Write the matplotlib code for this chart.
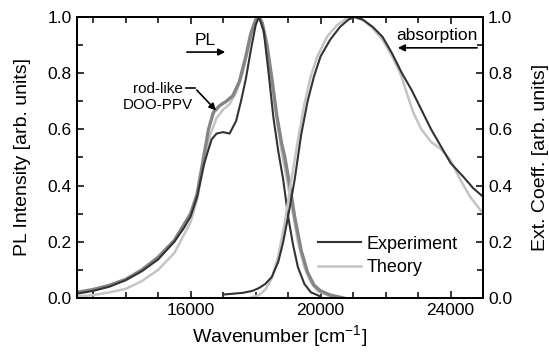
import matplotlib
matplotlib.use("Agg")
import matplotlib.pyplot as plt
from matplotlib.ticker import MultipleLocator

plt.rcParams['font.family'] = ['Liberation Sans', 'DejaVu Sans']

# PL, experiment (dark)
pl_exp_x = [12500, 13000, 13500, 14000, 14500, 15000, 15500, 15800, 16000, 16200,
            16400, 16500, 16650, 16800, 17000, 17200, 17400, 17550, 17700, 17850,
            18000, 18100, 18250, 18400, 18550, 18700, 18850, 19000, 19150,
            19300, 19500, 19700, 20000]
pl_exp_y = [0.015, 0.025, 0.04, 0.063, 0.095, 0.137, 0.20, 0.25, 0.29, 0.36,
            0.47, 0.51, 0.565, 0.585, 0.59, 0.585, 0.63, 0.70, 0.78, 0.88,
            0.97, 1.0, 0.95, 0.80, 0.64, 0.52, 0.42, 0.29, 0.19,
            0.11, 0.05, 0.02, 0.005]

# PL, rod-like DOO-PPV (medium grey)
pl_rod_x = [12500, 13000, 13500, 14000, 14500, 15000, 15500, 16000, 16200, 16400,
            16550, 16700, 16900, 17100, 17300, 17500, 17700, 17850, 18000, 18100,
            18200, 18350, 18500, 18650, 18800, 18900, 19050, 19200, 19400, 19600,
            19800, 20000, 20300, 20700]
pl_rod_y = [0.02, 0.03, 0.045, 0.066, 0.10, 0.145, 0.205, 0.30, 0.37, 0.50,
            0.60, 0.66, 0.685, 0.70, 0.72, 0.77, 0.86, 0.94, 0.99, 1.0,
            0.98, 0.90, 0.78, 0.65, 0.55, 0.50, 0.40, 0.29, 0.17, 0.09,
            0.045, 0.025, 0.01, 0.0]

# PL, theory (light)
pl_th_x = [12500, 13000, 13500, 14000, 14500, 15000, 15500, 16000, 16200, 16400,
           16600, 16800, 17000, 17200, 17400, 17600, 17800, 17950, 18080, 18200,
           18350, 18500, 18650, 18800, 18950, 19100, 19300, 19500, 19700, 19900,
           20200, 20600]
pl_th_y = [0.005, 0.01, 0.02, 0.032, 0.06, 0.10, 0.16, 0.27, 0.35, 0.47,
           0.58, 0.64, 0.67, 0.69, 0.73, 0.80, 0.90, 0.97, 1.0, 0.98,
           0.90, 0.78, 0.64, 0.52, 0.43, 0.33, 0.20, 0.11, 0.055, 0.025,
           0.01, 0.0]

# absorption, experiment (dark)
abs_exp_x = [17000, 17300, 17600, 17900, 18100, 18300, 18500, 18700, 18850, 19000,
             19200, 19400, 19600, 19800, 20000, 20300, 20600, 20850, 21050, 21300,
             21600, 21900, 22200, 22500, 22800, 23100, 23400, 23700, 24000, 24400,
             24700, 25000]
abs_exp_y = [0.012, 0.015, 0.018, 0.025, 0.035, 0.05, 0.075, 0.13, 0.20, 0.29,
             0.42, 0.58, 0.70, 0.79, 0.86, 0.92, 0.965, 0.99, 1.0, 0.99,
             0.965, 0.93, 0.87, 0.80, 0.74, 0.67, 0.60, 0.54, 0.48, 0.43,
             0.39, 0.36]

# absorption, theory (light)
abs_th_x = [17800, 18100, 18300, 18500, 18700, 18900, 19100, 19300, 19500, 19700,
            19900, 20200, 20500, 20800, 21000, 21300, 21600, 21900, 22200, 22450,
            22650, 22850, 23100, 23400, 23700, 24000, 24300, 24600, 25000]
abs_th_y = [0.0, 0.01, 0.03, 0.07, 0.15, 0.27, 0.42, 0.56, 0.69, 0.79,
            0.86, 0.93, 0.97, 0.995, 1.0, 0.99, 0.96, 0.92, 0.86, 0.80,
            0.73, 0.66, 0.60, 0.555, 0.53, 0.49, 0.42, 0.36, 0.30]

dark = "#333333"
mid = "#858585"
light = "#c4c4c4"

fig = plt.figure(figsize=(5.49, 3.53), dpi=100)
ax = fig.add_axes([0.140, 0.156, 0.740, 0.796])
ax2 = ax.twinx()

ax.plot(pl_th_x, pl_th_y, color=light, lw=1.8)
ax.plot(pl_rod_x, pl_rod_y, color=mid, lw=2.4)
ax.plot(pl_exp_x, pl_exp_y, color=dark, lw=1.5)
ax2.plot(abs_th_x, abs_th_y, color=light, lw=1.8, label="Theory")
ax2.plot(abs_exp_x, abs_exp_y, color=dark, lw=1.5, label="Experiment")

for a in (ax, ax2):
    a.set_xlim(12500, 25000)
    a.set_ylim(0, 1.0)
    a.yaxis.set_major_locator(MultipleLocator(0.2))
    a.yaxis.set_minor_locator(MultipleLocator(0.1))
    a.tick_params(which="both", direction="in", labelsize=12.5, width=1.1)
    a.tick_params(which="major", length=5)
    a.tick_params(which="minor", length=4)
    for s in a.spines.values():
        s.set_linewidth(1.4)

ax.xaxis.set_major_locator(MultipleLocator(4000))
ax.xaxis.set_minor_locator(MultipleLocator(1000))
ax.tick_params(axis="x", which="both", top=True)
ax.yaxis.set_major_formatter(plt.FormatStrFormatter("%.1f"))
ax2.yaxis.set_major_formatter(plt.FormatStrFormatter("%.1f"))

ax.set_xlabel("Wavenumber [cm$^{\\mathregular{-1}}$]", fontsize=14)
ax.set_ylabel("PL Intensity [arb. units]", fontsize=14, labelpad=12)
ax2.set_ylabel("Ext. Coeff. [arb. units]", fontsize=14, labelpad=14)

# annotations
ax.text(16440, 0.915, "PL", fontsize=12.5, ha="center", va="center")
ax.annotate("", xy=(17150, 0.875), xytext=(15800, 0.875),
            arrowprops=dict(arrowstyle="-|>", color="black", lw=1.2))
ax.text(23580, 0.935, "absorption", fontsize=12.5, ha="center", va="center")
ax.annotate("", xy=(22290, 0.89), xytext=(24900, 0.89),
            arrowprops=dict(arrowstyle="-|>", color="black", lw=1.2))
ax.text(15000, 0.715, "rod-like\nDOO-PPV", fontsize=11, ha="center",
        va="center", linespacing=1.1)
ax.plot([15850, 16130], [0.747, 0.747], color="black", lw=1.2)
ax.annotate("", xy=(16840, 0.66), xytext=(16130, 0.747),
            arrowprops=dict(arrowstyle="-|>", color="black", lw=1.2))

h, l = ax2.get_legend_handles_labels()
ax2.legend(h[::-1], l[::-1], loc="lower right", bbox_to_anchor=(0.977, 0.02),
           frameon=False, fontsize=13, handlelength=2.4, handletextpad=0.3,
           labelspacing=0.35)

fig.savefig("out.png", dpi=100)
